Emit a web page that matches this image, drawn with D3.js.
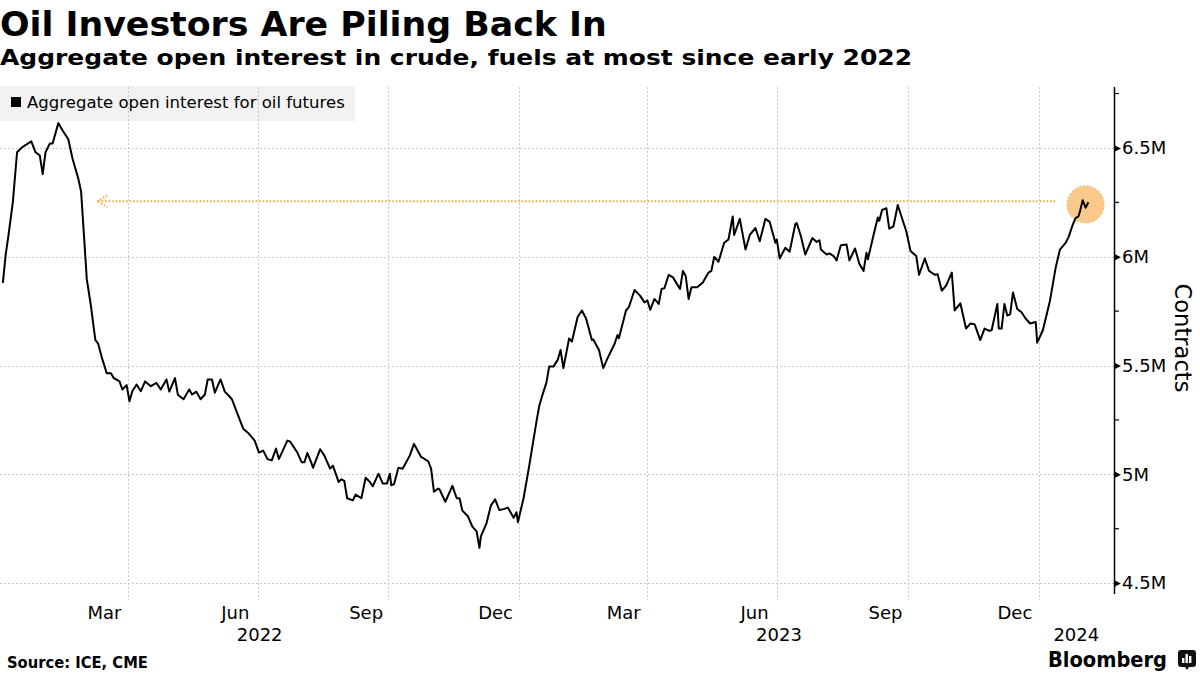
<!DOCTYPE html>
<html>
<head>
<meta charset="utf-8">
<script src="https://cdn.jsdelivr.net/npm/d3@7"></script>
<style>
  html, body { margin: 0; padding: 0; background: #fff; }
  svg { display: block; }
  text { font-family: "DejaVu Sans", sans-serif; }
</style>
</head>
<body>
<svg id="chart" width="1200" height="675"></svg>
<script>
const title = "Oil Investors Are Piling Back In";
const subtitle = "Aggregate open interest in crude, fuels at most since early 2022";
const legendLabel = "Aggregate open interest for oil futures";
const source = "Source: ICE, CME";
const yAxisTitle = "Contracts";

const dates = [
"2022-01-03","2022-01-05","2022-01-07","2022-01-10","2022-01-13","2022-01-17","2022-01-23","2022-01-26","2022-01-29","2022-01-31",
"2022-02-02","2022-02-05","2022-02-07","2022-02-11","2022-02-14","2022-02-18","2022-02-21","2022-02-25","2022-02-27","2022-03-01",
"2022-03-03","2022-03-06","2022-03-09","2022-03-11","2022-03-14","2022-03-17","2022-03-20","2022-03-22","2022-03-26","2022-03-28",
"2022-03-31","2022-04-02","2022-04-04","2022-04-07","2022-04-10","2022-04-13","2022-04-17","2022-04-21","2022-04-24","2022-04-28",
"2022-04-30","2022-05-04","2022-05-06","2022-05-10","2022-05-14","2022-05-16","2022-05-19","2022-05-22","2022-05-25","2022-05-27",
"2022-05-30","2022-06-01","2022-06-05","2022-06-08","2022-06-11","2022-06-13","2022-06-17","2022-06-21","2022-06-25","2022-06-29",
"2022-07-02","2022-07-05","2022-07-08","2022-07-11","2022-07-14","2022-07-16","2022-07-22","2022-07-24","2022-07-29","2022-08-01",
"2022-08-03","2022-08-05","2022-08-08","2022-08-09","2022-08-14","2022-08-17","2022-08-21","2022-08-23","2022-08-27","2022-08-29",
"2022-08-31","2022-09-02","2022-09-06","2022-09-08","2022-09-12","2022-09-15","2022-09-18","2022-09-20","2022-09-24","2022-09-27",
"2022-09-30","2022-10-02","2022-10-03","2022-10-05","2022-10-08","2022-10-11","2022-10-16","2022-10-19","2022-10-24","2022-10-29",
"2022-10-31","2022-11-02","2022-11-05","2022-11-06","2022-11-10","2022-11-15","2022-11-18","2022-11-20","2022-11-22","2022-11-26",
"2022-11-29","2022-12-02","2022-12-04","2022-12-05","2022-12-09","2022-12-12","2022-12-15","2022-12-18","2022-12-21","2022-12-24",
"2022-12-28","2022-12-30","2022-12-31","2023-01-04","2023-01-08","2023-01-13","2023-01-15","2023-01-17","2023-01-20","2023-01-22",
"2023-01-25","2023-01-28","2023-01-30","2023-02-01","2023-02-05","2023-02-07","2023-02-11","2023-02-14","2023-02-17","2023-02-21",
"2023-02-22","2023-02-26","2023-03-01","2023-03-04","2023-03-09","2023-03-11","2023-03-12","2023-03-17","2023-03-19","2023-03-23",
"2023-03-27","2023-03-30","2023-04-01","2023-04-03","2023-04-06","2023-04-09","2023-04-11","2023-04-13","2023-04-16","2023-04-19",
"2023-04-24","2023-04-26","2023-04-28","2023-04-30","2023-05-02","2023-05-06","2023-05-10","2023-05-14","2023-05-16","2023-05-18",
"2023-05-21","2023-05-25","2023-05-28","2023-05-31","2023-06-01","2023-06-05","2023-06-09","2023-06-12","2023-06-16","2023-06-19",
"2023-06-23","2023-06-26","2023-06-30","2023-07-01","2023-07-03","2023-07-07","2023-07-10","2023-07-14","2023-07-15","2023-07-18",
"2023-07-21","2023-07-26","2023-07-29","2023-07-31","2023-08-01","2023-08-05","2023-08-07","2023-08-10","2023-08-12","2023-08-15",
"2023-08-19","2023-08-21","2023-08-25","2023-08-28","2023-08-31","2023-09-02","2023-09-03","2023-09-07","2023-09-10","2023-09-11",
"2023-09-13","2023-09-16","2023-09-18","2023-09-21","2023-09-24","2023-09-27","2023-09-30","2023-10-03","2023-10-07","2023-10-09",
"2023-10-13","2023-10-16","2023-10-20","2023-10-22","2023-10-25","2023-10-28","2023-11-01","2023-11-03","2023-11-07","2023-11-11",
"2023-11-14","2023-11-17","2023-11-21","2023-11-24","2023-11-27","2023-11-29","2023-12-03","2023-12-04","2023-12-06","2023-12-08",
"2023-12-10","2023-12-12","2023-12-14","2023-12-17","2023-12-20","2023-12-23","2023-12-26","2023-12-30","2023-12-31","2024-01-04",
"2024-01-09","2024-01-13","2024-01-16","2024-01-20","2024-01-22","2024-01-25","2024-01-27","2024-01-29","2024-01-30","2024-02-01",
"2024-02-03","2024-02-05"
];
const openInterest = [
5.88,6.01,6.10,6.25,6.48,6.505,6.53,6.48,6.465,6.38,
6.48,6.52,6.52,6.614,6.58,6.54,6.45,6.36,6.30,6.10,
5.897,5.77,5.618,5.60,5.527,5.465,5.465,5.442,5.427,5.39,
5.41,5.336,5.382,5.413,5.382,5.427,5.405,5.42,5.39,5.436,
5.38,5.442,5.366,5.345,5.39,5.367,5.38,5.345,5.367,5.436,
5.436,5.375,5.436,5.38,5.36,5.345,5.277,5.209,5.186,5.155,
5.10,5.109,5.07,5.064,5.118,5.07,5.155,5.15,5.10,5.056,
5.056,5.098,5.05,5.03,5.115,5.086,5.026,5.04,4.965,4.977,
4.97,4.89,4.88,4.907,4.89,4.984,4.965,4.945,5.003,4.958,
4.958,5.003,4.95,4.955,5.03,5.026,5.086,5.14,5.08,5.06,
5.026,4.92,4.935,4.93,4.874,4.947,4.89,4.89,4.833,4.806,
4.76,4.738,4.662,4.715,4.776,4.856,4.885,4.836,4.84,4.847,
4.80,4.826,4.78,4.89,5.04,5.24,5.314,5.359,5.42,5.495,
5.495,5.526,5.571,5.488,5.624,5.61,5.723,5.753,5.715,5.617,
5.62,5.571,5.488,5.533,5.60,5.64,5.625,5.753,5.768,5.847,
5.82,5.79,5.80,5.756,5.806,5.783,5.852,5.855,5.917,5.905,
5.852,5.935,5.91,5.806,5.86,5.86,5.882,5.927,5.935,5.999,
5.977,6.064,6.079,6.185,6.10,6.174,6.033,6.10,6.132,6.071,
6.174,6.16,6.064,6.08,5.992,6.041,6.023,6.15,6.155,6.093,
6.01,6.086,6.068,6.075,6.033,6.01,6.015,6.003,5.983,6.053,
6.056,5.983,6.038,5.968,5.935,6.018,5.988,6.10,6.18,6.165,
6.215,6.223,6.129,6.14,6.238,6.177,6.117,6.026,6.003,5.917,
5.992,5.935,5.917,5.92,5.844,5.867,5.927,5.753,5.786,5.67,
5.693,5.69,5.617,5.67,5.66,5.662,5.783,5.67,5.67,5.783,
5.73,5.735,5.836,5.76,5.745,5.715,5.693,5.70,5.605,5.662,
5.798,5.95,6.033,6.064,6.089,6.147,6.177,6.185,6.207,6.26,
6.225,6.25
];

const yTickValues = [4.5, 5, 5.5, 6, 6.5];
const yTickLabels = ["4.5M", "5M", "5.5M", "6M", "6.5M"];
const yMinorTicks = [4.75, 5.25, 5.75, 6.25, 6.75];
const monthTickDates = ["2022-03-15","2022-06-15","2022-09-15","2022-12-15","2023-03-15","2023-06-15","2023-09-15","2023-12-15"];
const monthTickLabels = ["Mar","Jun","Sep","Dec","Mar","Jun","Sep","Dec"];
const gridDates = ["2022-04-01","2022-07-01","2022-10-01","2023-01-01","2023-04-01","2023-07-01","2023-10-01","2024-01-01"];
const yearLabels = ["2022","2023","2024"];
const yearStarts = ["2022-01-01","2023-01-01","2024-01-01"];
const xDomain = ["2022-01-01","2024-02-23"];
const yDomain = [4.45, 6.78];

// annotation: level reached now, last seen early 2022
const refLevel = 6.255;
const refFrom = "2022-03-11";
const refTo = "2024-01-14";
const highlightDate = "2024-02-03";
const highlightValue = 6.24;

const parse = d3.timeParse("%Y-%m-%d");
const svg = d3.select("#chart");

const plotLeft = 0, plotRight = 1114, plotTop = 87, plotBottom = 594;

const x = d3.scaleTime().domain(xDomain.map(parse)).range([plotLeft, plotRight]);
const y = d3.scaleLinear().domain(yDomain).range([plotBottom, plotTop]);

// keep font height, squeeze horizontally to the target width
function fitScale(sel, x0, target) {
  const w = sel.node().getComputedTextLength();
  sel.attr("x", 0).attr("transform", `translate(${x0},0) scale(${(target / w).toFixed(4)},1)`);
}
function fitSize(sel, target) {
  const w = sel.node().getComputedTextLength();
  const fs = parseFloat(sel.attr("font-size"));
  sel.attr("font-size", (fs * target / w).toFixed(2));
}

// Title and subtitle
fitScale(svg.append("text").attr("y", 36).attr("font-size", 34).attr("font-weight", "bold")
  .attr("fill", "#000").text(title), 0, 607);
fitScale(svg.append("text").attr("y", 65).attr("font-size", 22).attr("font-weight", "bold")
  .attr("fill", "#000").text(subtitle), 0, 913);

// Legend box
svg.append("rect").attr("x", 0).attr("y", 86).attr("width", 355).attr("height", 35).attr("fill", "#f2f2f2");
svg.append("rect").attr("x", 11).attr("y", 97).attr("width", 10).attr("height", 10).attr("fill", "#000");
fitScale(svg.append("text").attr("y", 108).attr("font-size", 16).attr("fill", "#000")
  .text(legendLabel), 27, 318);

// Grid
const grid = svg.append("g");
grid.selectAll("line.h").data(yTickValues).join("line")
  .attr("x1", plotLeft).attr("x2", plotRight)
  .attr("y1", d => Math.round(y(d)) + 0.5).attr("y2", d => Math.round(y(d)) + 0.5)
  .attr("stroke", "#c8c8c8").attr("stroke-width", 1).attr("stroke-dasharray", "2,2");
grid.selectAll("line.v").data(gridDates.map(parse)).join("line")
  .attr("x1", d => Math.round(x(d)) + 0.5).attr("x2", d => Math.round(x(d)) + 0.5)
  .attr("y1", plotTop).attr("y2", 600)
  .attr("stroke", "#c8c8c8").attr("stroke-width", 1).attr("stroke-dasharray", "2,2");

// Reference dotted line + arrow
const refY = y(refLevel);
const ax0 = x(parse(refFrom));
svg.append("line").attr("x1", ax0).attr("x2", x(parse(refTo)))
  .attr("y1", refY).attr("y2", refY)
  .attr("stroke", "#f0a830").attr("stroke-width", 2).attr("stroke-dasharray", "1.5,2");
svg.append("path").attr("d", `M${ax0 + 9},${refY - 6} L${ax0},${refY} L${ax0 + 9},${refY + 6}`)
  .attr("fill", "none").attr("stroke", "#f0a830").attr("stroke-width", 2).attr("stroke-dasharray", "1.5,2");

// Highlight circle
svg.append("circle").attr("cx", x(parse(highlightDate))).attr("cy", y(highlightValue)).attr("r", 18.5)
  .attr("fill", "#f9c98b").attr("stroke", "#f0a850").attr("stroke-width", 1).attr("stroke-dasharray", "2,2");

// Line
const series = dates.map((d, i) => ({ date: parse(d), value: openInterest[i] }));
const line = d3.line().x(d => x(d.date)).y(d => y(d.value));
svg.append("path").datum(series).attr("d", line)
  .attr("fill", "none").attr("stroke", "#000").attr("stroke-width", 2).attr("stroke-linejoin", "round");

// Right axis: labelled ticks as small pointers, minor ticks as short lines
const yAxis = d3.axisRight(y).tickValues(yTickValues).tickSize(0)
  .tickFormat((d, i) => yTickLabels[i]);
const yg = svg.append("g").attr("transform", `translate(${plotRight},0)`).call(yAxis);
yg.select(".domain").attr("d", `M0.5,${plotTop}V${plotBottom}`).attr("stroke", "#000").attr("stroke-width", 1.5);
yg.selectAll(".tick").append("path").attr("d", "M0,-3.5L7,0L0,3.5Z").attr("fill", "#000");
yg.selectAll(".tick text").attr("x", 8).attr("font-size", 18).attr("fill", "#000");
yg.selectAll("line.minor").data(yMinorTicks).join("line").attr("class", "minor")
  .attr("x1", 0).attr("x2", 5).attr("y1", d => y(d)).attr("y2", d => y(d))
  .attr("stroke", "#000").attr("stroke-width", 1.2);

fitSize(svg.append("text").attr("transform", `translate(1175,338) rotate(90)`).attr("text-anchor", "middle")
  .attr("font-size", 23).attr("fill", "#000").text(yAxisTitle), 109);

// Bottom month labels
const xAxis = d3.axisBottom(x).tickValues(monthTickDates.map(parse)).tickSize(0)
  .tickFormat((d, i) => monthTickLabels[i]);
const xg = svg.append("g").attr("transform", `translate(0,${plotBottom + 3})`).call(xAxis);
xg.select(".domain").remove();
xg.selectAll(".tick text").attr("font-size", 18).attr("fill", "#000").attr("dy", "1.05em")
  .attr("font-family", "DejaVu Sans, sans-serif");

// Year labels centered on visible part of each year
const xMax = parse(xDomain[1]);
svg.append("g").selectAll("text").data(yearLabels).join("text")
  .attr("x", (d, i) => {
    const s = parse(yearStarts[i]);
    const e = i + 1 < yearStarts.length ? parse(yearStarts[i + 1]) : xMax;
    return (x(s) + x(e)) / 2;
  })
  .attr("y", 641).attr("text-anchor", "middle").attr("font-size", 18).attr("fill", "#000").text(d => d);

// Footer
fitScale(svg.append("text").attr("y", 668).attr("font-size", 16).attr("font-weight", "bold")
  .attr("fill", "#000").text(source), 7, 141);
const bb = svg.append("text").attr("y", 667).attr("font-size", 21).attr("font-weight", "bold")
  .attr("fill", "#000").attr("font-family", "Roboto, Inter, sans-serif").text("Bloomberg");
fitScale(bb, 1048, 119);
const icon = svg.append("g").attr("transform", "translate(1178,650)");
icon.append("rect").attr("width", 18).attr("height", 17).attr("rx", 3).attr("fill", "#111");
icon.append("path").attr("d", "M7,17 L9,20 L11,17 Z").attr("fill", "#111");
[[4, 8], [7.5, 4], [11, 6]].forEach(([bx, by]) =>
  icon.append("rect").attr("x", bx).attr("y", by).attr("width", 2.4).attr("height", 13 - by).attr("fill", "#fff"));
</script>
</body>
</html>
